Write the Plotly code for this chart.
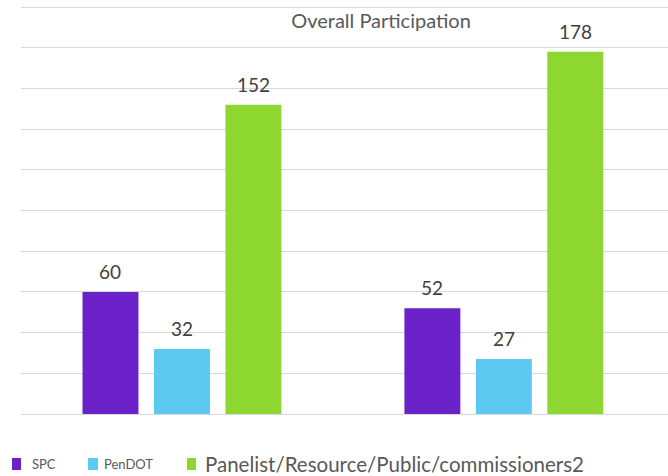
import plotly.graph_objects as go

# ---- data ----
categories = ["Group 1", "Group 2"]
series_names = ["SPC", "PenDOT", "Panelist/Resource/Public/commissioners2"]
spc = [60, 52]
pendot = [32, 27]
panelist = [152, 178]
title_text = "Overall Participation"

# ---- style ----
colors = ["#6a21c8", "#5bc9f0", "#8ed630"]
legend_font_sizes = [13, 13, 20.5]
FONT = "Lato, Carlito, 'Open Sans', sans-serif"

W_FIG, H_FIG = 668, 476
L, R, T, B = 21, 0, 6, 62
PW = W_FIG - L - R
PH = H_FIG - T - B
X_RANGE = [-0.5, 1.51]
Y_RANGE = [0, 200.5]
BARGAP = 0.334
BARGROUPGAP = 0.217


def px_to_paper_x(px):
    return (px - L) / PW


def px_to_paper_y(py):
    return (H_FIG - B - py) / PH


fig = go.Figure()
all_series = [spc, pendot, panelist]
for name, vals, col in zip(series_names, all_series, colors):
    fig.add_trace(go.Bar(
        x=categories, y=vals, name=name,
        marker=dict(color=col, line=dict(width=0)),
        showlegend=False, hoverinfo="x+y+name",
    ))

# value labels above bars
px_per_cat = PW / (X_RANGE[1] - X_RANGE[0])
pitch = px_per_cat * (1 - BARGAP) / len(all_series)
annotations = []
for i, vals in enumerate(all_series):
    for cat, v in zip(categories, vals):
        annotations.append(dict(
            x=cat, y=v, xref="x", yref="y", text=str(v), showarrow=False,
            xanchor="center", yanchor="bottom", borderpad=0,
            xshift=(i - (len(all_series) - 1) / 2) * pitch, yshift=8,
            font=dict(family=FONT, size=19, color="#404040"),
        ))

# custom legend (square + label)
legend_sq_px = [(12, 21), (88, 98), (187, 196)]
legend_text_px = [31, 103, 204]
LEG_Y0, LEG_Y1, LEG_YC = 458, 470, 464
shapes = []
for (x0, x1), col in zip(legend_sq_px, colors):
    shapes.append(dict(
        type="rect", xref="paper", yref="paper",
        x0=px_to_paper_x(x0), x1=px_to_paper_x(x1),
        y0=px_to_paper_y(LEG_Y1), y1=px_to_paper_y(LEG_Y0),
        fillcolor=col, line=dict(width=0),
    ))
for name, tx, fs in zip(series_names, legend_text_px, legend_font_sizes):
    annotations.append(dict(
        x=px_to_paper_x(tx), y=px_to_paper_y(LEG_YC), xref="paper", yref="paper",
        text=name, showarrow=False, xanchor="left", yanchor="middle", borderpad=0,
        font=dict(family=FONT, size=fs, color="#595959"),
    ))

fig.update_layout(
    width=W_FIG, height=H_FIG,
    margin=dict(l=L, r=R, t=T, b=B, pad=0),
    paper_bgcolor="white", plot_bgcolor="white",
    barmode="group", bargap=BARGAP, bargroupgap=BARGROUPGAP,
    title=dict(
        text=title_text, xref="paper", x=px_to_paper_x(381), xanchor="center",
        yref="container", y=1 - 21 / H_FIG, yanchor="middle",
        font=dict(family=FONT, size=20, color="#595959"),
    ),
    xaxis=dict(range=X_RANGE, showticklabels=False, showgrid=False,
               zeroline=False, showline=False, ticks=""),
    yaxis=dict(range=Y_RANGE, dtick=20, showticklabels=False, showgrid=True,
               gridcolor="#d9d9d9", gridwidth=1, zeroline=True,
               zerolinecolor="#d9d9d9", zerolinewidth=1, showline=False, ticks=""),
    annotations=annotations, shapes=shapes,
    font=dict(family=FONT),
)

fig.write_html(
    "out.html",
    config={"displayModeBar": False},
    post_script="document.body.style.margin='0';document.body.style.overflow='hidden';",
)
